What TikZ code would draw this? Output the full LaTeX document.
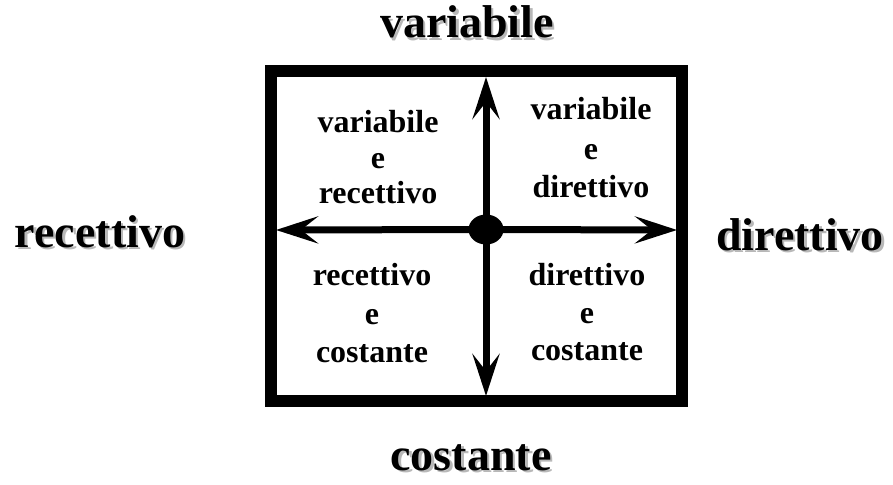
\documentclass[tikz,border=0pt]{standalone}
\usepackage{fontspec}
\setmainfont{Liberation Serif}
\usetikzlibrary{arrows.meta,shapes.geometric}
\begin{document}
\begin{tikzpicture}[x=1pt,y=-1pt,
  outer/.style={font=\fontsize{46}{50}\selectfont\bfseries, anchor=base, inner sep=0pt},
  shadowtxt/.style={outer, text=black!28},
  inner/.style={font=\fontsize{32}{36}\selectfont\bfseries, anchor=base, inner sep=0pt},
  axis/.style={line width=7pt, -{Stealth[length=42pt,width=27pt,inset=17pt]}},
  boxframe/.style={draw, line width=12pt, inner sep=0pt, minimum width=411pt, minimum height=330pt, line join=miter}
]
\useasboundingbox (0,0) rectangle (893,484);
% frame
\node[boxframe] (box) at (476.5,236) {};
% axis tips
\coordinate (tN) at (486,77);
\coordinate (tS) at (486,396);
\coordinate (tW) at (276,230);
\coordinate (tE) at (677,230);
\coordinate (o) at (486,229.5);
\draw[axis] (o) -- (tN);
\draw[axis] (o) -- (tS);
\draw[axis] (o) -- (tW);
\draw[axis] (o) -- (tE);
\node[ellipse, fill=black, minimum width=35pt, minimum height=30pt, inner sep=0pt] (dot) at (o) {};
% outer labels with shadow
\node[shadowtxt] (sN) at (469.5,40.5) {variabile};
\node[outer] (lN) at (467,38) {variabile};
\node[shadowtxt] (sW) at (102.5,249.5) {recettivo};
\node[outer] (lW) at (100,247) {recettivo};
\node[shadowtxt] (sE) at (802.5,252.5) {direttivo};
\node[outer] (lE) at (800,250) {direttivo};
\node[shadowtxt] (sS) at (473.5,472.5) {costante};
\node[outer] (lS) at (471,470) {costante};
% quadrant texts
\node[inner] (q1a) at (378,132) {variabile};
\node[inner] (q1b) at (378,168) {e};
\node[inner] (q1c) at (378,203) {recettivo};
\node[inner] (q2a) at (591,120) {variabile};
\node[inner] (q2b) at (591,159) {e};
\node[inner] (q2c) at (591,197) {direttivo};
\node[inner] (q3a) at (372,285) {recettivo};
\node[inner] (q3b) at (372,324) {e};
\node[inner] (q3c) at (372,362) {costante};
\node[inner] (q4a) at (587,285) {direttivo};
\node[inner] (q4b) at (587,323) {e};
\node[inner] (q4c) at (587,360) {costante};
\end{tikzpicture}
\end{document}
